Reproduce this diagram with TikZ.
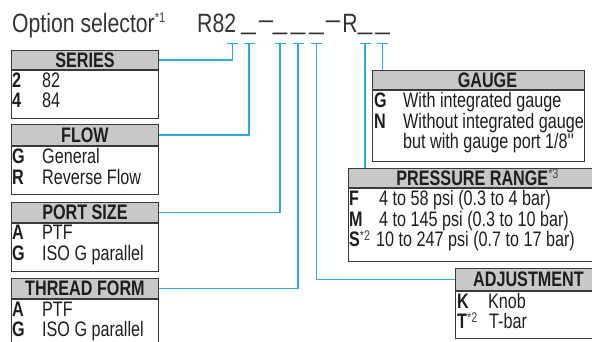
\documentclass[tikz,border=0pt]{standalone}
\usepackage{fontspec}
\setmainfont{Liberation Sans}[FakeStretch=0.8]
\newfontfamily\optfont{Liberation Sans}[FakeStretch=0.77]
\usetikzlibrary{arrows.meta, positioning}
\definecolor{linkblue}{HTML}{29ABE2}
\definecolor{headgray}{HTML}{C8C8C8}
\definecolor{framegray}{HTML}{3A3A3A}
\definecolor{inkgray}{HTML}{1E1E1E}
\definecolor{notegray}{HTML}{404040}
\newcommand{\selsize}{\fontsize{26.5}{28}\selectfont}
\newcommand{\optsize}{\optfont\fontsize{21}{21}\selectfont}
\newcommand{\fn}[2][6.5pt]{\raisebox{#1}{\fontsize{14}{14}\selectfont\mdseries\color{notegray}#2}}
\newcommand{\wide}[1]{\scalebox{1.22}[1]{#1}}

\begin{document}
\begin{tikzpicture}[
  x=1pt, y=-1pt, inkgray,
  sel/.style={anchor=base, inner sep=0pt, font=\selsize, text=black!80},
  head/.style={draw=framegray, fill=headgray, line width=0.9pt, inner sep=0pt,
    text height=15pt, text depth=0pt, font=\optsize\bfseries, anchor=north west},
  body/.style={draw=framegray, line width=0.9pt, inner sep=0pt, anchor=north west},
  key/.style={anchor=base west, inner sep=0pt, font=\optsize\bfseries},
  item/.style={anchor=base west, inner sep=0pt, font=\optsize},
  link/.style={draw=linkblue, line width=1.1pt, {Bar[width=11pt]}-}
]
  \useasboundingbox (0,0) rectangle (592,341);

  % option code
  \node[sel, anchor=base west] (optsel) at (12,32) {Option selector\fn[9.7pt]{*1}};
  \node[sel, anchor=base west] (code) at (197,32) {R82};
  \node[sel] (u1) at (248.5,29) {\wide{\_}};
  \node[sel] (dash1) at (266,28.5) {\wide{--}};
  \node[sel] (u2) at (280,29) {\wide{\_}};
  \node[sel] (u3) at (298,29) {\wide{\_}};
  \node[sel] (u4) at (316.5,29) {\wide{\_}};
  \node[sel] (dash2) at (333,28.5) {\wide{--}};
  \node[sel] (rr) at (350,32) {R};
  \node[sel] (u5) at (365,29) {\wide{\_}};
  \node[sel] (u6) at (382.5,29) {\wide{\_}};

  % left boxes
  \node[head, minimum width=147pt, minimum height=19pt] (seriesHd) at (11,50) {SERIES};
  \node[body, minimum width=147pt, minimum height=48pt] (seriesBd) at (seriesHd.south west) {};
  \node[key] (ser-k1) at (12,87) {2};
  \node[item] (ser-v1) at (42,87) {82};
  \node[key] (ser-k2) at (12,107.5) {4};
  \node[item] (ser-v2) at (42,107.5) {84};

  \node[head, minimum width=147pt, minimum height=21pt] (flowHd) at (11,124) {FLOW};
  \node[body, minimum width=147pt, minimum height=48pt] (flowBd) at (flowHd.south west) {};
  \node[key] (flow-k1) at (12,163.5) {G};
  \node[item] (flow-v1) at (42,163.5) {General};
  \node[key] (flow-k2) at (12,184) {R};
  \node[item] (flow-v2) at (42,184) {Reverse Flow};

  \node[head, minimum width=147pt, minimum height=20pt] (portHd) at (11,202) {PORT SIZE};
  \node[body, minimum width=147pt, minimum height=48pt] (portBd) at (portHd.south west) {};
  \node[key] (port-k1) at (12,239.5) {A};
  \node[item] (port-v1) at (42,239.5) {PTF};
  \node[key] (port-k2) at (12,260) {G};
  \node[item] (port-v2) at (42,260) {ISO G parallel};

  \node[head, minimum width=147pt, minimum height=20pt] (threadHd) at (11,278) {THREAD FORM};
  \node[body, minimum width=147pt, minimum height=60pt] (threadBd) at (threadHd.south west) {};
  \node[key] (thread-k1) at (12,316) {A};
  \node[item] (thread-v1) at (42,316) {PTF};
  \node[key] (thread-k2) at (12,336.5) {G};
  \node[item] (thread-v2) at (42,336.5) {ISO G parallel};

  % right boxes
  \node[head, minimum width=212pt, minimum height=19pt] (gaugeHd) at (372,70) {\hspace*{18pt}GAUGE};
  \node[body, minimum width=212pt, minimum height=71pt] (gaugeBd) at (gaugeHd.south west) {};
  \node[key] (gauge-k1) at (374,107.5) {G};
  \node[item] (gauge-v1) at (403,107.5) {With integrated gauge};
  \node[key] (gauge-k2) at (374,128) {N};
  \node[item] (gauge-v2) at (403,128) {Without integrated gauge};
  \node[item] (gauge-v3) at (403,148.5) {but with gauge port 1/8''};

  \node[head, minimum width=258pt, minimum height=19pt] (presHd) at (348,168) {PRESSURE RANGE\fn[7pt]{*3}};
  \node[body, minimum width=258pt, minimum height=73pt] (presBd) at (presHd.south west) {};
  \node[key] (pres-k1) at (349,205.5) {F};
  \node[item] (pres-v1) at (379,205.5) {4 to 58 psi (0.3 to 4 bar)};
  \node[key] (pres-k2) at (349,226) {M};
  \node[item] (pres-v2) at (379,226) {4 to 145 psi (0.3 to 10 bar)};
  \node[key] (pres-k3) at (349,246.5) {S\fn{*2}};
  \node[item] (pres-v3) at (376,246.5) {10 to 247 psi (0.7 to 17 bar)};

  \node[head, minimum width=146pt, minimum height=22pt] (adjHd) at (455,268) {ADJUSTMENT};
  \node[body, minimum width=146pt, minimum height=47pt] (adjBd) at (adjHd.south west) {};
  \node[key] (adj-k1) at (457,308) {K};
  \node[item] (adj-v1) at (488,308) {Knob};
  \node[key] (adj-k2) at (457,328.5) {T\fn{*2}};
  \node[item] (adj-v2) at (489,328.5) {T-bar};

  % connectors
  \foreach \n/\x in {ser/232.5, flow/249, port/280, thread/298, adj/316.5, pres/365, gauge/382.5}
    \coordinate (t-\n) at (\x,43);
  \draw[link] (t-ser) |- (seriesHd.east);
  \draw[link] (t-flow) |- (flowHd.east);
  \draw[link] (t-port) |- (portHd.east);
  \draw[link] (t-thread) |- (threadHd.east);
  \draw[link] (t-adj) |- (adjHd.west);
  \draw[link] (t-pres) -- (t-pres |- presHd.north);
  \draw[link] (t-gauge) -- (t-gauge |- gaugeHd.north);
\end{tikzpicture}
\end{document}
